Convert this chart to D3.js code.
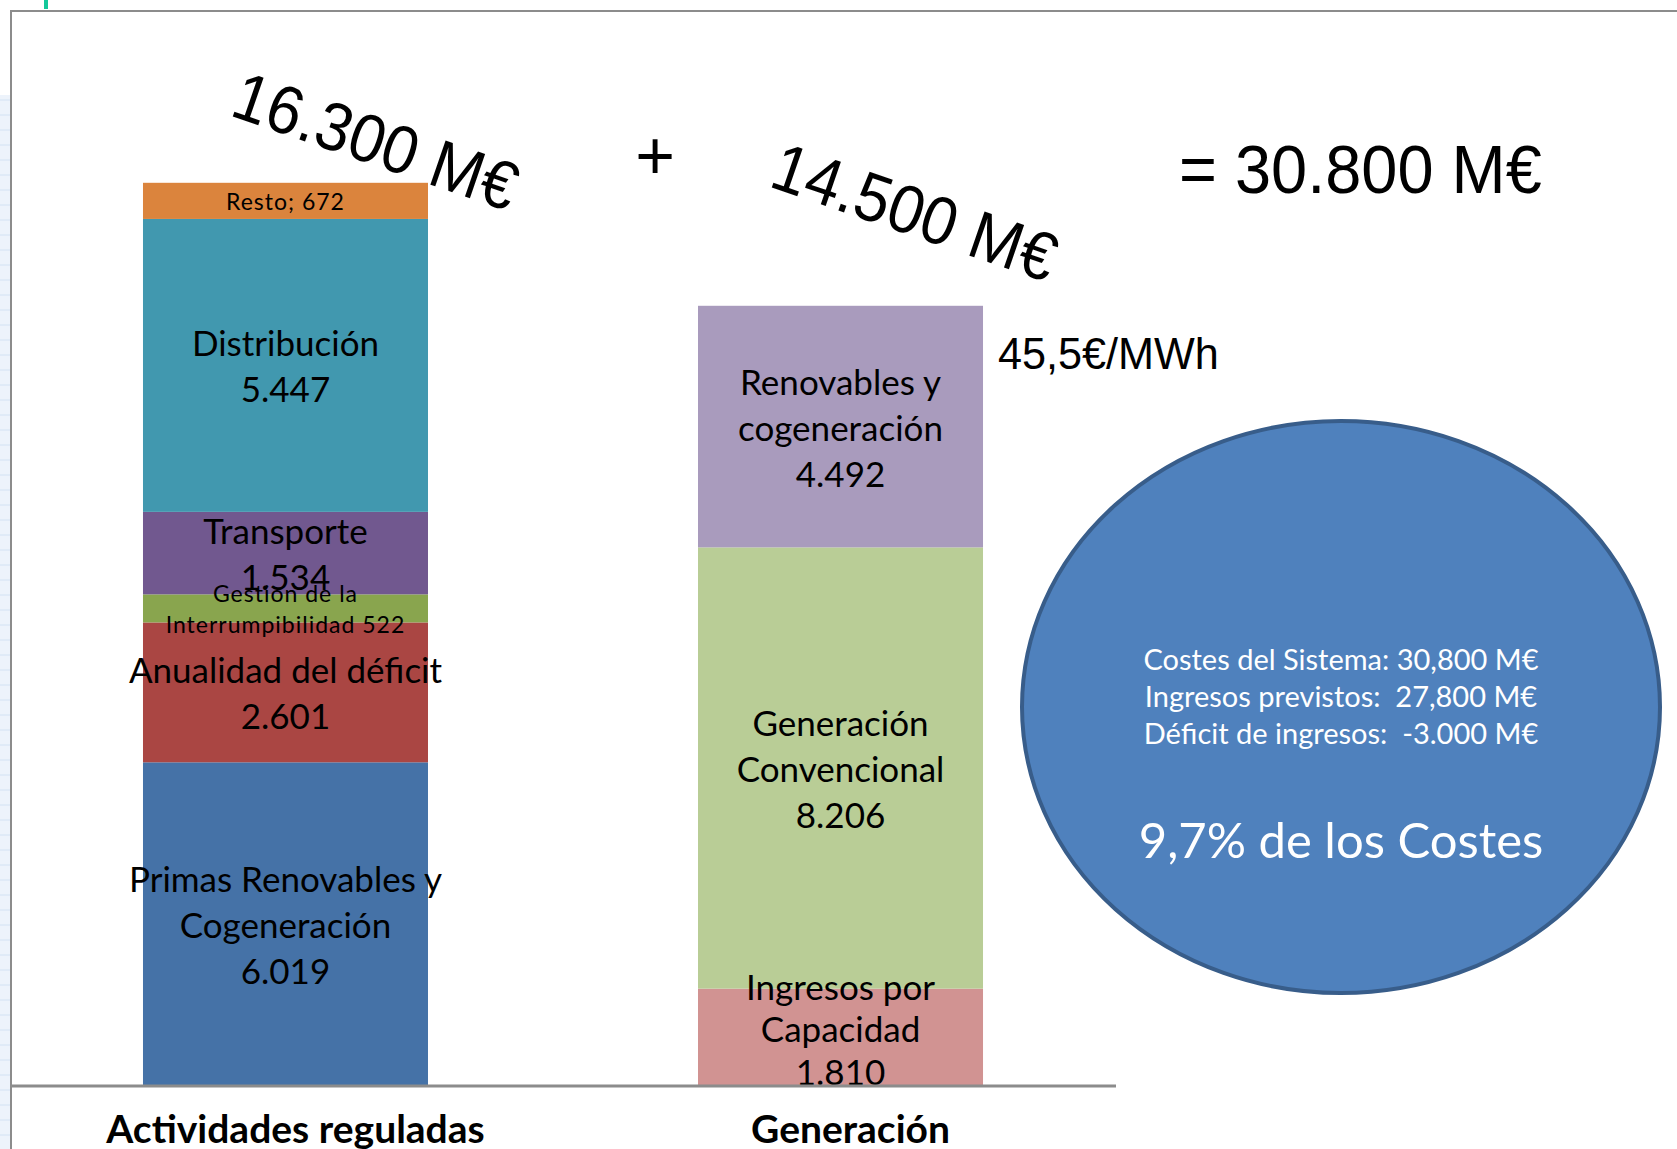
<!DOCTYPE html>
<html><head><meta charset="utf-8">
<script src="https://cdn.jsdelivr.net/npm/d3@7"></script>
<style>body{margin:0;background:#fff;overflow:hidden;} svg{display:block;}</style>
</head><body>
<svg id="chart" width="1677" height="1149"></svg>
<script>
// ---------- data ----------
const categories = ["Actividades reguladas", "Generación"];
const regNames = [["Primas Renovables y","Cogeneración"],["Anualidad del déficit"],["Gestion de la","Interrumpibilidad"],["Transporte"],["Distribución"],["Resto"]];
const regValues = [6019, 2601, 522, 1534, 5447, 672];
const regSeparators = ["\n","\n"," ","\n","\n","; "];
const regColors = ["#4572A7","#AA4643","#89A54E","#71588F","#4198AF","#DB843D"];
const genNames = [["Ingresos por","Capacidad"],["Generación","Convencional"],["Renovables y","cogeneración"]];
const genValues = [1810, 8206, 4492];
const genSeparators = ["\n","\n","\n"];
const genColors = ["#D19392","#B9CD96","#A99BBD"];
const totalLabels = ["16.300 M€", "14.500 M€"];
const plusSign = "+";
const grandTotal = "= 30.800 M€";
const priceNote = "45,5€/MWh";
const summaryLines = ["Costes del Sistema: 30,800 M€", "Ingresos previstos:  27,800 M€", "Déficit de ingresos:  -3.000 M€"];
const summaryHighlight = "9,7% de los Costes";

// ---------- setup ----------
const svg = d3.select("#chart");
const W = 1677, H = 1149;
const fmt = d3.formatLocale({decimal: ",", thousands: ".", grouping: [3], currency: ["", ""]}).format(",");
const calib = "Lato, 'Open Sans', sans-serif";
const arial = "'Liberation Sans', Arial, sans-serif";

// slide background decorations
const deco = svg.append("g");
deco.append("rect").attr("x", 0).attr("y", 95).attr("width", 10).attr("height", H - 95).attr("fill", "#edf3fb");
deco.selectAll("line.g").data(d3.range(100, H, 15)).join("line")
  .attr("x1", 0).attr("x2", 10).attr("y1", d => d).attr("y2", d => d)
  .attr("stroke", "#d3e2f3").attr("stroke-width", 1);
deco.append("rect").attr("x", 44).attr("y", 0).attr("width", 4).attr("height", 9).attr("fill", "#14c89a");
// frame
deco.append("path").attr("d", `M11,${H} L11,11 L${W},11`).attr("fill", "none").attr("stroke", "#8c8c8c").attr("stroke-width", 2);

// scales
const x = d3.scaleBand().domain(categories).range([8, 1118]).paddingInner(0.4865).paddingOuter(0.2432);
const y = d3.scaleLinear().domain([0, 18000]).range([1086, 118]);

const bars = [
  {cat: categories[0], names: regNames, values: regValues, colors: regColors, seps: regSeparators},
  {cat: categories[1], names: genNames, values: genValues, colors: genColors, seps: genSeparators}
];
const segs = [];
bars.forEach(b => {
  const ends = d3.cumsum(b.values);
  b.values.forEach((v, i) => {
    segs.push({cat: b.cat, v, y0: ends[i] - v, y1: ends[i], name: b.names[i], sep: b.seps[i], color: b.colors[i]});
  });
});

// bars
svg.append("g").selectAll("rect").data(segs).join("rect")
  .attr("x", d => x(d.cat))
  .attr("width", x.bandwidth())
  .attr("y", d => y(d.y1))
  .attr("height", d => y(d.y0) - y(d.y1))
  .attr("fill", d => d.color);

// segment labels
const lab = svg.append("g").attr("font-family", calib).attr("fill", "#000");
segs.forEach(d => {
  const hpx = y(d.y0) - y(d.y1);
  const small = hpx < 50;
  let lines;
  if (d.sep === "\n") lines = [...d.name, fmt(d.v)];
  else lines = [...d.name.slice(0, -1), d.name[d.name.length - 1] + d.sep + fmt(d.v)];
  const fs = small ? 23 : 35;
  let lh = small ? 31 : 46;
  if (!small && lines.length >= 3) lh = Math.min(46, hpx / 2.3);
  const cx = x(d.cat) + x.bandwidth() / 2;
  let cy = (y(d.y0) + y(d.y1)) / 2;
  // keep the last line inside the bar bottom
  const lastC = cy + (lines.length - 1) / 2 * lh;
  const limit = y(d.y0) - 2 - fs * 0.38;
  if (!small && lastC > limit) cy -= (lastC - limit);
  const t = lab.append("text").attr("text-anchor", "middle").attr("font-size", fs)
    .attr("letter-spacing", small ? 1 : 0)
    .attr("dominant-baseline", "central");
  lines.forEach((ln, i) => {
    t.append("tspan").attr("x", cx).attr("y", cy + (i - (lines.length - 1) / 2) * lh).text(ln);
  });
});

// axis
const ax = svg.append("g").attr("transform", "translate(0,1086)")
  .call(d3.axisBottom(x).tickSize(0).tickSizeOuter(0));
ax.select(".domain").attr("stroke", "#8c8c8c").attr("stroke-width", 3).attr("d", "M11,0H1116");
ax.selectAll("text").attr("y", 57).attr("dy", 0).attr("dx", 10)
  .attr("font-family", calib).attr("font-weight", "bold").attr("font-size", 39).attr("fill", "#000");

// annotations
const ann = svg.append("g").attr("font-family", arial).attr("fill", "#000");
const totPos = [[376, 140], [915, 211]];
totalLabels.forEach((t, i) => {
  ann.append("text").attr("transform", `translate(${totPos[i][0]},${totPos[i][1]}) rotate(19) scale(0.92,1)`)
    .attr("text-anchor", "middle").attr("dy", "0.36em").attr("font-size", 68).text(t);
});
ann.append("text").attr("x", 655).attr("y", 179).attr("text-anchor", "middle").attr("font-size", 68).text(plusSign);
ann.append("text").attr("transform", "translate(1179,193) scale(0.955,1)").attr("font-size", 68).text(grandTotal);
ann.append("text").attr("transform", "translate(998,369) scale(0.96,1)").attr("font-size", 45).text(priceNote);

// ellipse summary
const ell = svg.append("g");
ell.append("ellipse").attr("cx", 1341).attr("cy", 707).attr("rx", 319).attr("ry", 286)
  .attr("fill", "#4F81BD").attr("stroke", "#385D8A").attr("stroke-width", 4);
const et = ell.append("g").attr("font-family", calib).attr("fill", "#fff").attr("text-anchor", "middle");
summaryLines.forEach((s, i) => {
  et.append("text").attr("x", 1341).attr("y", 670 + i * 37).attr("font-size", 29).attr("xml:space", "preserve").style("white-space", "pre").text(s);
});
et.append("text").attr("x", 1341).attr("y", 858).attr("font-size", 49).text(summaryHighlight);
</script>
</body></html>
